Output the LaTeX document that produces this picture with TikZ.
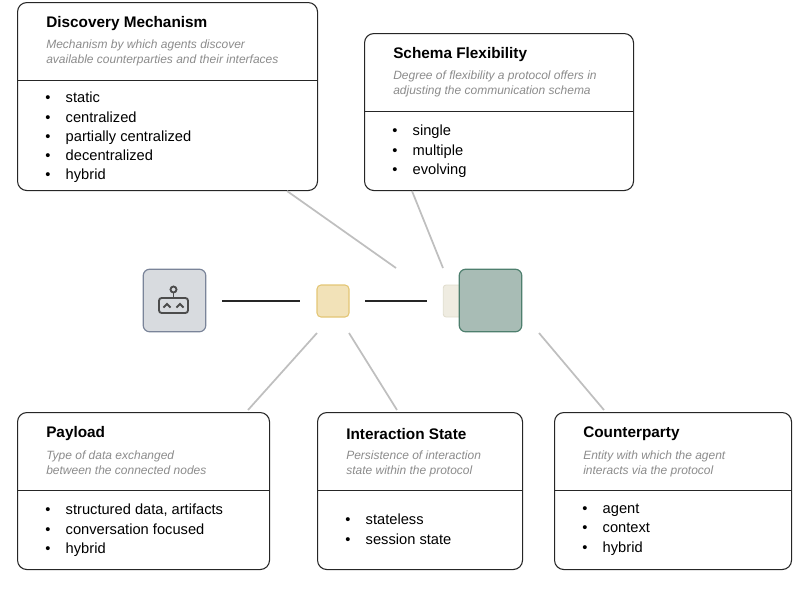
\documentclass[tikz,border=0pt]{standalone}
\usepackage{fontspec}
\setmainfont{Liberation Sans}
\definecolor{robfill}{HTML}{D8DBDF}
\definecolor{robline}{HTML}{7A8499}
\definecolor{grfill}{HTML}{A8BCB5}
\definecolor{grline}{HTML}{4E7F6E}
\definecolor{yefill}{HTML}{F2E2B8}
\definecolor{yeline}{HTML}{E3C675}
\definecolor{befill}{HTML}{EFECE1}
\definecolor{beline}{HTML}{E0DCCD}
\begin{document}
\begin{tikzpicture}[x=0.75pt,y=-0.75pt,
  card/.style={draw=black!85,line width=0.8pt,rounded corners=7pt,fill=white,anchor=north west,inner sep=0pt},
  ttl/.style={anchor=west,inner sep=0pt,font=\bfseries\fontsize{11.5}{13}\selectfont},
  dsc/.style={anchor=north west,font=\itshape\fontsize{9}{11}\selectfont,text=black!45,align=left,inner sep=0pt},
  itm/.style={anchor=north west,font=\fontsize{11}{14.4}\selectfont,align=left,inner sep=0pt},
  sep/.style={draw=black!85,line width=0.6pt},
  link/.style={draw=black!25,line width=1.3pt},
  wire/.style={draw=black!85,line width=1.6pt}]
\useasboundingbox (0,0) rectangle (793,589);
\newcommand{\card}[7]{% name,x1,y1,x2,y2,divy,title
  \node[card,minimum width={(#4-#2)*0.75pt},minimum height={(#5-#3)*0.75pt}] (#1) at (#2,#3) {};
  \draw[sep] (#2,#6) -- (#4,#6);
  \node[ttl] (#1t) at (#2+29,#3+22) {#7};}
\newcommand{\bl}{•\hspace{11.5pt}}
\card{disc}{17}{2}{317}{190}{80}{Discovery Mechanism}
\node[dsc] (disc-d) at (46,40) {Mechanism by which agents discover\\available counterparties and their interfaces};
\node[itm] (disc-i) at (45,92) {\bl static\\\bl centralized\\\bl partially centralized\\\bl decentralized\\\bl hybrid};
\card{schema}{364}{33}{633}{190}{111}{Schema Flexibility}
\node[dsc] (schema-d) at (393,71) {Degree of flexibility a protocol offers in\\adjusting the communication schema};
\node[itm] (schema-i) at (392,125) {\bl single\\\bl multiple\\\bl evolving};
\card{pay}{17}{412}{269}{569}{490}{Payload}
\node[dsc] (pay-d) at (46,451) {Type of data exchanged\\between the connected nodes};
\node[itm] (pay-i) at (45,504) {\bl structured data, artifacts\\\bl conversation focused\\\bl hybrid};
\card{inter}{317}{412}{522}{569}{490}{Interaction State}
\node[dsc] (inter-d) at (346,451) {Persistence of interaction\\state within the protocol};
\node[itm] (inter-i) at (345,514) {\bl stateless\\\bl session state};
\card{cp}{554}{412}{791}{569}{490}{Counterparty}
\node[dsc] (cp-d) at (583,451) {Entity with which the agent\\interacts via the protocol};
\node[itm] (cp-i) at (582,504) {\bl agent\\\bl context\\\bl hybrid};
% center icons
\node[draw=robline,fill=robfill,line width=0.9pt,rounded corners=5pt,minimum size=47pt,inner sep=0pt] (robot) at (174.5,300.5) {};
\node[draw=yeline,fill=yefill,line width=0.8pt,rounded corners=3pt,minimum size=24pt,inner sep=0pt] (mid) at (333,301) {};
\node[draw=beline,fill=befill,line width=0.6pt,rounded corners=2pt,minimum width=16pt,minimum height=24pt,inner sep=0pt] (beige) at (454,301) {};
\node[draw=grline,fill=grfill,line width=0.9pt,rounded corners=5pt,minimum size=47pt,inner sep=0pt] (green) at (490.5,300.5) {};
% robot glyph
\draw[black!70,line width=1.4pt,rounded corners=2pt] (159,298) rectangle (188,313);
\draw[black!70,line width=1.4pt] (173.5,298) -- (173.5,293);
\draw[black!70,line width=1.4pt] (173.5,289.5) circle (3);
\draw[black!70,line width=1.4pt] (163.5,307.5) -- (167,304) -- (170.5,307.5) (176.5,307.5) -- (180,304) -- (183.5,307.5);
% wires
\coordinate (w1a) at (222,301); \coordinate (w1b) at (300,301);
\coordinate (w2a) at (365,301); \coordinate (w2b) at (427,301);
\draw[wire] (w1a) -- (w1b);
\draw[wire] (w2a) -- (w2b);
% gray links
\coordinate (l1) at (287,191); \coordinate (l1e) at (396,268);
\coordinate (l2) at (412,191); \coordinate (l2e) at (443,268);
\coordinate (l3) at (317,333); \coordinate (l3e) at (248,410);
\coordinate (l4) at (349,333); \coordinate (l4e) at (397,410);
\coordinate (l5) at (539,333); \coordinate (l5e) at (604,410);
\draw[link] (l1) -- (l1e); \draw[link] (l2) -- (l2e);
\draw[link] (l3) -- (l3e); \draw[link] (l4) -- (l4e); \draw[link] (l5) -- (l5e);
\end{tikzpicture}
\end{document}
